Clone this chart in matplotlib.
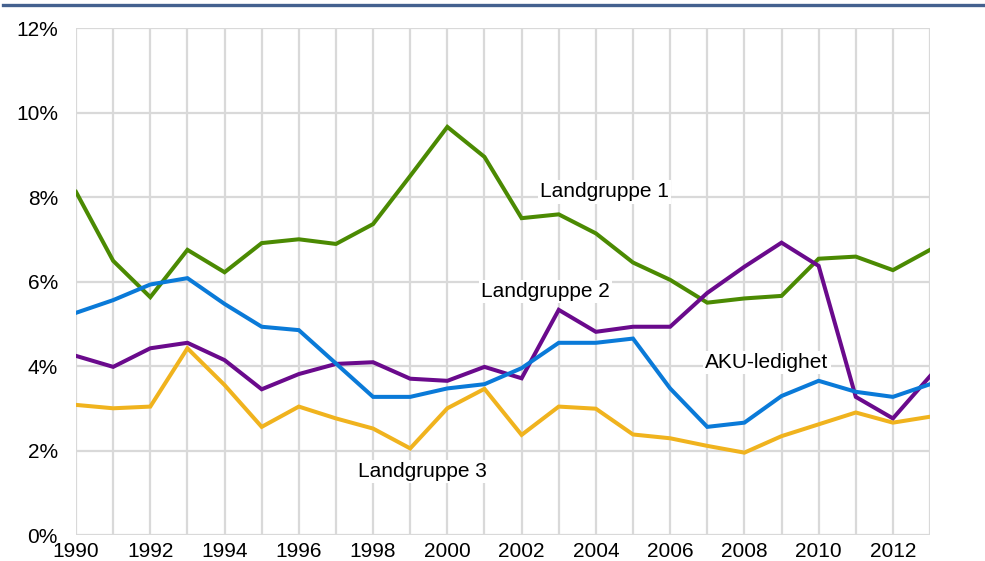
import numpy as np
import matplotlib
matplotlib.use('Agg')
import matplotlib.pyplot as plt
from matplotlib.lines import Line2D
from matplotlib.ticker import FuncFormatter, MultipleLocator


# Chart data (percent)
years = list(range(1990, 2014))

landgruppe_1 = [8.12, 6.49, 5.63, 6.75, 6.22, 6.91, 7.00, 6.89, 7.36, 8.50,
                9.66, 8.95, 7.50, 7.59, 7.14, 6.45, 6.04, 5.50, 5.60, 5.66,
                6.54, 6.59, 6.27, 6.75]
landgruppe_2 = [4.24, 3.98, 4.42, 4.55, 4.14, 3.45, 3.81, 4.05, 4.09, 3.70,
                3.65, 3.98, 3.71, 5.33, 4.81, 4.93, 4.93, 5.73, 6.35, 6.92,
                6.37, 3.27, 2.76, 3.76]
aku_ledighet = [5.26, 5.56, 5.93, 6.08, 5.47, 4.93, 4.85, 4.06, 3.27, 3.27,
                3.47, 3.57, 3.95, 4.55, 4.55, 4.65, 3.47, 2.56, 2.66, 3.29,
                3.65, 3.39, 3.27, 3.57]
landgruppe_3 = [3.08, 3.00, 3.04, 4.42, 3.55, 2.56, 3.04, 2.76, 2.52, 2.05,
                3.00, 3.46, 2.37, 3.04, 2.99, 2.38, 2.29, 2.11, 1.95, 2.34,
                2.62, 2.90, 2.66, 2.80]

# name, values, colour, label anchor (left edge, middle)
series = [
    ('Landgruppe 1', landgruppe_1, '#4b8a02', (2002.5, 8.12)),
    ('Landgruppe 2', landgruppe_2, '#6a0a8c', (2000.9, 5.76)),
    ('AKU-ledighet', aku_ledighet, '#0a7ad8', (2006.95, 4.08)),
    ('Landgruppe 3', landgruppe_3, '#f0b31e', (1997.6, 1.50)),
]

plt.rcParams['font.family'] = ['Liberation Sans', 'DejaVu Sans']

fig = plt.figure(figsize=(9.85, 5.61), dpi=100)
ax = fig.add_axes([0.0772, 0.0463, 0.8670, 0.9037])

for name, values, color, (lx, ly) in series:
    ax.plot(years, values, color=color, lw=2.9, solid_joinstyle='miter',
            zorder=3)
    ax.text(lx, ly, name, fontsize=15, ha='left', va='center', zorder=4,
            bbox=dict(facecolor='white', edgecolor='none', pad=1.5))

ax.set_xlim(1990, 2013)
ax.set_ylim(0, 12)
ax.xaxis.set_major_locator(MultipleLocator(2))
ax.xaxis.set_minor_locator(MultipleLocator(1))
ax.yaxis.set_major_locator(MultipleLocator(2))
ax.yaxis.set_major_formatter(FuncFormatter(lambda v, p: f'{v:.0f}%'))

ax.grid(True, which='both', axis='x', color='#d9d9d9', lw=1.6, zorder=0)
ax.grid(True, which='major', axis='y', color='#d9d9d9', lw=1.6, zorder=0)
ax.set_axisbelow(True)
for side in ['top', 'right', 'left', 'bottom']:
    ax.spines[side].set_visible(False)

ax.tick_params(axis='both', which='both', length=0, labelsize=15,
               colors='black')
ax.tick_params(axis='x', pad=5)
ax.tick_params(axis='y', pad=13)

# blue rule along the top of the slide
fig.add_artist(Line2D([0.003, 1.0], [0.991, 0.991], color='#44618f', lw=2.4,
                      transform=fig.transFigure))

fig.savefig('out.png', dpi=100)
